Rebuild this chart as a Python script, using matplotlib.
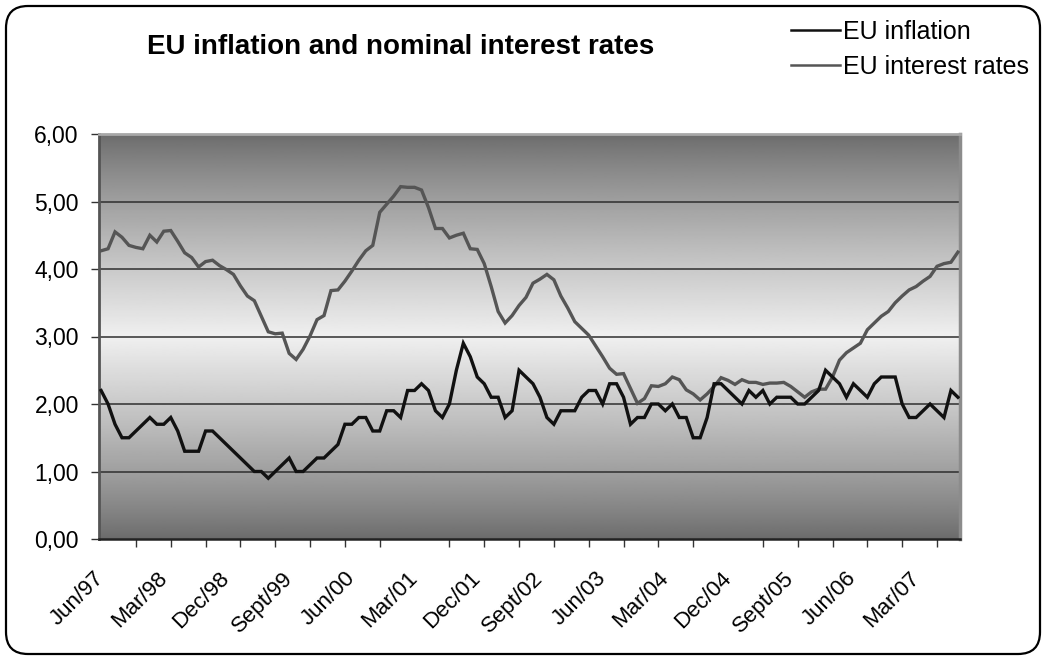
import numpy as np
import matplotlib
matplotlib.use("Agg")
import matplotlib.pyplot as plt
from matplotlib.patches import FancyBboxPatch

plt.rcParams['font.family'] = ['Liberation Sans', 'DejaVu Sans']

# monthly values, Jun/97 .. Sep/07
inflation = [
    2.2, 2.0, 1.7, 1.5, 1.5, 1.6, 1.7, 1.8, 1.7, 1.7,
    1.8, 1.6, 1.3, 1.3, 1.3, 1.6, 1.6, 1.5, 1.4, 1.3,
    1.2, 1.1, 1.0, 1.0, 0.9, 1.0, 1.1, 1.2, 1.0, 1.0,
    1.1, 1.2, 1.2, 1.3, 1.4, 1.7, 1.7, 1.8, 1.8, 1.6,
    1.6, 1.9, 1.9, 1.8, 2.2, 2.2, 2.3, 2.2, 1.9, 1.8,
    2.0, 2.5, 2.9, 2.7, 2.4, 2.3, 2.1, 2.1, 1.8, 1.9,
    2.5, 2.4, 2.3, 2.1, 1.8, 1.7, 1.9, 1.9, 1.9, 2.1,
    2.2, 2.2, 2.0, 2.3, 2.3, 2.1, 1.7, 1.8, 1.8, 2.0,
    2.0, 1.9, 2.0, 1.8, 1.8, 1.5, 1.5, 1.8, 2.3, 2.3,
    2.2, 2.1, 2.0, 2.2, 2.1, 2.2, 2.0, 2.1, 2.1, 2.1,
    2.0, 2.0, 2.1, 2.2, 2.5, 2.4, 2.3, 2.1, 2.3, 2.2,
    2.1, 2.3, 2.4, 2.4, 2.4, 2.0, 1.8, 1.8, 1.9, 2.0,
    1.9, 1.8, 2.2, 2.1,
]

interest = [
    4.27, 4.30, 4.55, 4.47, 4.35, 4.32, 4.30, 4.50, 4.40, 4.56,
    4.57, 4.41, 4.24, 4.17, 4.03, 4.11, 4.13, 4.05, 3.99, 3.92,
    3.75, 3.60, 3.53, 3.30, 3.07, 3.04, 3.05, 2.75, 2.66, 2.81,
    3.01, 3.25, 3.31, 3.68, 3.69, 3.82, 3.97, 4.13, 4.27, 4.35,
    4.84, 4.96, 5.08, 5.22, 5.21, 5.21, 5.17, 4.91, 4.60, 4.60,
    4.46, 4.50, 4.53, 4.30, 4.29, 4.08, 3.74, 3.37, 3.20, 3.31,
    3.46, 3.58, 3.79, 3.85, 3.92, 3.84, 3.60, 3.42, 3.22, 3.12,
    3.02, 2.86, 2.70, 2.53, 2.44, 2.45, 2.23, 2.01, 2.08, 2.27,
    2.26, 2.30, 2.40, 2.36, 2.21, 2.15, 2.06, 2.15, 2.26, 2.39,
    2.35, 2.29, 2.36, 2.32, 2.32, 2.29, 2.31, 2.31, 2.32, 2.26,
    2.18, 2.10, 2.18, 2.22, 2.22, 2.40, 2.65, 2.76, 2.83, 2.90,
    3.10, 3.20, 3.30, 3.37, 3.50, 3.60, 3.69, 3.74, 3.82, 3.89,
    4.04, 4.08, 4.10, 4.25,
]

tick_labels = ["Jun/97", "Mar/98", "Dec/98", "Sept/99", "Jun/00", "Mar/01",
               "Dec/01", "Sept/02", "Jun/03", "Mar/04", "Dec/04", "Sept/05",
               "Jun/06", "Mar/07"]
y_ticks = [0, 1, 2, 3, 4, 5, 6]

W, H = 1047, 659
fig = plt.figure(figsize=(W / 100, H / 100), dpi=100)

# outer rounded frame
frame = FancyBboxPatch((6, 5), W - 13, H - 11,
                       boxstyle="round,pad=0,rounding_size=22",
                       transform=None, fill=False, edgecolor='black',
                       linewidth=1.6)
fig.patches.append(frame)

ax = fig.add_axes([99 / W, (H - 539) / H, (960 - 99) / W, (539 - 134) / H])

x = np.arange(len(inflation))

# grey gradient background: dark at top/bottom, light in the middle
t = np.linspace(0, 1, 400)
shade = 0.42 + 0.52 * (1 - np.abs(2 * t - 1)) ** 0.85
ax.imshow(shade[:, None], extent=[-0.3, len(x) - 0.7, 0, 6], aspect='auto',
          cmap='gray', vmin=0, vmax=1, origin='lower', zorder=0)

for v in y_ticks[1:-1]:
    ax.axhline(v, color='#2e2e2e', linewidth=1.1, zorder=1)

ax.plot(x, interest, color='#555555', linewidth=2.4, label='EU interest rates',
        zorder=3, solid_joinstyle='miter')
ax.plot(x, inflation, color='#111111', linewidth=2.4, label='EU inflation',
        zorder=4, solid_joinstyle='miter')

ax.set_xlim(-0.3, len(x) - 0.7)
ax.set_ylim(0, 6)

ax.set_yticks(y_ticks)
ax.set_yticklabels([f"{v:.2f}".replace('.', ',') for v in y_ticks], fontsize=16.5)
ax.tick_params(axis='y', length=6, width=1, pad=8.5, color='#333333')

ax.set_xticks(range(0, len(x), 5), minor=True)
ax.set_xticks(range(0, len(x), 9))
ax.set_xticklabels(tick_labels, fontsize=16, rotation=45, ha='right',
                   va='center', rotation_mode='anchor')
ax.tick_params(axis='x', which='major', length=0, pad=26)
ax.tick_params(axis='x', which='minor', length=6, width=1, color='#333333')

ax.spines['left'].set_color('#555555')
ax.spines['left'].set_linewidth(2)
ax.spines['bottom'].set_color('#222222')
ax.spines['bottom'].set_linewidth(1.8)
ax.spines['right'].set_color('#8c8c8c')
ax.spines['right'].set_linewidth(2.5)
ax.spines['top'].set_color('#a8a8a8')
ax.spines['top'].set_linewidth(2)

fig.text(401 / W, 1 - 47 / H, "EU inflation and nominal interest rates",
         ha='center', va='center', fontsize=20, fontweight='bold')

h_int, h_inf = ax.get_lines()[-2:]
fig.legend([h_inf, h_int], ['EU inflation', 'EU interest rates'],
           loc='upper left', bbox_to_anchor=(791 / W, 1 - 20 / H),
           frameon=False, fontsize=18, handlelength=1.95, handletextpad=0.12,
           labelspacing=0.42, borderpad=0, borderaxespad=0)
for line in fig.legends[0].get_lines():
    line.set_linewidth(1.8)

fig.savefig('out.png', dpi=100)
